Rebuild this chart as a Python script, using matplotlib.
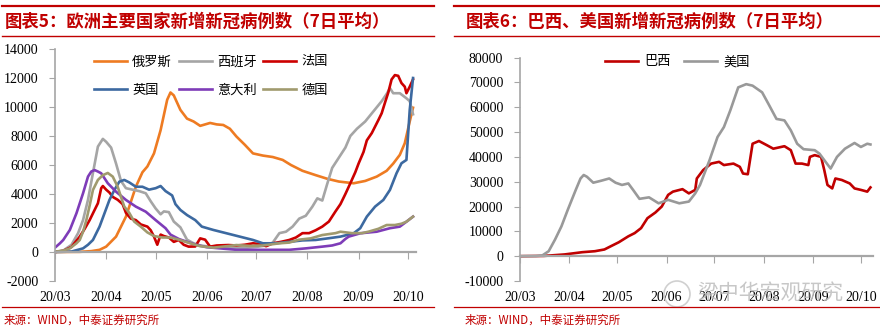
import matplotlib
matplotlib.use("Agg")
import matplotlib.pyplot as plt
import pandas as pd
from matplotlib.lines import Line2D
from matplotlib.patches import Ellipse

plt.rcParams["font.family"] = ["Noto Sans CJK SC", "DejaVu Sans"]

START = pd.Timestamp("2020-03-01")

# ---- Figure 5: Europe, 7-day average new cases (day offset from 2020-03-01) ----
rus_days = [0, 15, 22, 27, 31, 37, 43, 49, 53, 56, 60, 64, 68, 70, 72, 76, 80, 84, 88,
            94, 98, 102, 106, 110, 115, 120, 126, 132, 138, 143, 150, 158, 165, 172,
            181, 188, 195, 201, 205, 209, 212, 215, 217]
rus_vals = [0, 10, 60, 150, 370, 1060, 2440, 4500, 5500, 5900, 6800, 8400, 10500, 11000,
            10800, 9800, 9200, 9000, 8700, 8900, 8800, 8760, 8500, 7960, 7400, 6800, 6650,
            6550, 6350, 6000, 5600, 5300, 5050, 4860, 4740, 4900, 5200, 5600, 6100, 6700,
            7500, 9000, 9950]

esp_days = [0, 5, 10, 14, 17, 20, 23, 26, 29, 31, 34, 37, 40, 43, 47, 51, 55, 58, 61, 64,
            66, 69, 72, 76, 80, 84, 88, 95, 105, 115, 122, 128, 132, 136, 140, 144, 148,
            152, 156, 159, 162, 165, 168, 172, 176, 179, 183, 188, 193, 198, 201, 203, 205,
            209, 213, 215, 217]
esp_vals = [0, 100, 500, 1300, 2200, 3600, 5450, 7270, 7800, 7600, 7200, 6100, 4900, 4400,
            4300, 4200, 4050, 3500, 3000, 2600, 2800, 2750, 2100, 1700, 850, 600, 450, 350,
            300, 280, 350, 450, 650, 1300, 1400, 1750, 2300, 2500, 3130, 3700, 3550, 4700,
            5800, 6500, 7200, 8000, 8500, 9000, 9700, 10400, 10900, 11300, 10950, 10950,
            10600, 10400, 9500]

fra_days = [0, 5, 10, 15, 18, 21, 24, 26, 28, 29, 31, 33, 35, 38, 41, 43, 46, 49, 52, 56,
            58, 60, 62, 64, 66, 69, 72, 75, 78, 81, 85, 88, 91, 94, 98, 105, 110, 115, 120,
            124, 128, 132, 137, 142, 146, 150, 154, 158, 162, 166, 170, 173, 176, 179, 182,
            184, 187, 189, 192, 194, 196, 198, 200, 202, 204, 206, 208, 210, 212, 213, 215,
            217]
fra_vals = [0, 80, 350, 1060, 1600, 2200, 2900, 3360, 4400, 4550, 4300, 4100, 3800, 3600,
            3300, 2700, 2300, 2200, 1900, 1750, 1500, 1060, 500, 1200, 1100, 1000, 700, 830,
            500, 370, 380, 940, 850, 370, 450, 480, 450, 500, 600, 550, 400, 600, 700, 830,
            1000, 1300, 1300, 1500, 1750, 2100, 2800, 3300, 4000, 4740, 5500, 6100, 6900,
            7700, 8200, 8650, 9100, 9570, 10300, 11000, 11900, 12200, 12150, 11650, 11400,
            10950, 11400, 11900]

gbr_days = [0, 10, 17, 20, 23, 27, 30, 33, 36, 39, 42, 45, 49, 53, 57, 61, 64, 67, 71, 73,
            76, 80, 85, 89, 96, 104, 112, 120, 126, 134, 142, 150, 158, 166, 173, 181, 185,
            189, 194, 199, 203, 207, 210, 213, 215, 217]
gbr_vals = [0, 30, 250, 500, 830, 1750, 2670, 3590, 4280, 4850, 4970, 4800, 4500, 4500,
            4300, 4400, 4550, 4200, 3900, 3300, 2900, 2550, 2200, 1750, 1520, 1290, 1060,
            830, 600, 600, 700, 800, 830, 950, 1060, 1290, 1640, 2440, 3130, 3590, 4280,
            5430, 6120, 6350, 9800, 12000]

ita_days = [0, 3, 5, 9, 13, 17, 20, 22, 24, 26, 28, 32, 37, 43, 49, 55, 61, 67, 70, 75, 80,
            86, 92, 100, 110, 120, 130, 142, 152, 162, 168, 173, 176, 178, 185, 195, 203,
            209, 213, 217]
ita_vals = [300, 600, 830, 1520, 2670, 4050, 5200, 5550, 5650, 5550, 5430, 4740, 4160,
            3590, 3130, 2780, 2200, 1640, 1200, 900, 700, 480, 330, 250, 150, 150, 150, 150,
            250, 370, 450, 600, 900, 1060, 1290, 1400, 1640, 1750, 2090, 2440]

deu_days = [0, 5, 9, 13, 15, 17, 19, 21, 23, 26, 29, 32, 35, 38, 40, 42, 45, 48, 52, 56, 60,
            65, 70, 75, 82, 88, 96, 104, 110, 118, 126, 136, 142, 148, 155, 162, 170, 173,
            180, 186, 190, 196, 201, 206, 210, 213, 217]
deu_vals = [20, 100, 250, 600, 830, 1400, 2200, 3200, 4280, 4970, 5300, 5450, 5200, 4500,
            3800, 3130, 2700, 2100, 1750, 1350, 1100, 1000, 1000, 850, 600, 400, 300, 400,
            480, 420, 450, 600, 650, 850, 940, 1170, 1300, 1400, 1300, 1300, 1400, 1600,
            1860, 1860, 1950, 2090, 2440]

# ---- Figure 6: Brazil and US ----
bra_days = [0, 15, 28, 39, 47, 53, 57, 62, 68, 72, 76, 80, 85, 89, 93, 96, 102, 106, 110,
            111, 115, 120, 125, 128, 134, 138, 140, 143, 146, 150, 155, 159, 166, 170, 173,
            177, 181, 182, 185, 189, 191, 193, 196, 198, 202, 207, 210, 214, 218, 220]
bra_vals = [0, 100, 700, 1600, 2000, 2700, 4000, 5600, 8000, 9300, 11300, 15300, 17600,
            20000, 24700, 26000, 27000, 25300, 26700, 31300, 34700, 37300, 38000, 36700,
            37300, 36000, 33300, 33000, 45300, 46400, 44700, 43300, 44300, 42700, 37300,
            37300, 36700, 40000, 40700, 40000, 34700, 28700, 27300, 31300, 30700, 29300,
            27300, 26700, 26000, 27700]

usa_days = [0, 10, 14, 18, 22, 26, 30, 35, 38, 40, 42, 46, 51, 56, 60, 64, 68, 71, 75, 81,
            87, 93, 100, 106, 110, 113, 119, 124, 128, 132, 137, 142, 146, 152, 156, 161,
            166, 170, 174, 178, 185, 188, 191, 195, 199, 204, 210, 214, 218, 220]
usa_vals = [0, 50, 300, 2000, 6700, 12000, 18700, 26700, 31300, 32700, 32000, 29600, 30400,
            31300, 29600, 28700, 29300, 26700, 23100, 23700, 21300, 22700, 21300, 22000,
            25300, 28700, 38700, 48000, 52000, 58700, 68000, 69300, 68700, 66000, 61300,
            55300, 54700, 50700, 45300, 43100, 42700, 41300, 38700, 35300, 40000, 43300,
            45600, 44000, 45300, 45000]

left_series = [
    ("俄罗斯", rus_days, rus_vals, "#EE7B22"),
    ("西班牙", esp_days, esp_vals, "#A5A5A5"),
    ("法国", fra_days, fra_vals, "#CC0000"),
    ("英国", gbr_days, gbr_vals, "#3C69A0"),
    ("意大利", ita_days, ita_vals, "#7E3CB8"),
    ("德国", deu_days, deu_vals, "#A09A6E"),
]
right_series = [
    ("巴西", bra_days, bra_vals, "#C00000"),
    ("美国", usa_days, usa_vals, "#999999"),
]

month_ticks = pd.date_range("2020-03-01", "2020-10-01", freq="MS")
RED = "#C00000"
AXIS_GRAY = "#A6A6A6"
SERIF = ["Liberation Serif", "DejaVu Serif"]
W, H = 880, 333


def to_dates(days):
    return START + pd.to_timedelta(days, unit="D")


def style_axes(ax, ylim, step, x_end_days):
    ax.set_xlim(START, START + pd.Timedelta(days=x_end_days))
    ax.set_ylim(*ylim)
    ax.set_yticks(range(ylim[0], ylim[1] + 1, step))
    ax.set_yticklabels([str(v) for v in range(ylim[0], ylim[1] + 1, step)],
                       fontfamily=SERIF, fontsize=10)
    for s in ("top", "right"):
        ax.spines[s].set_visible(False)
    ax.spines["left"].set_color(AXIS_GRAY)
    ax.spines["left"].set_linewidth(1.2)
    ax.spines["bottom"].set_position(("data", 0))
    ax.spines["bottom"].set_color(AXIS_GRAY)
    ax.spines["bottom"].set_linewidth(1.6)
    ax.tick_params(axis="y", direction="out", length=4, color=AXIS_GRAY, pad=8)
    ax.tick_params(axis="x", direction="out", length=5, color=AXIS_GRAY,
                   labelbottom=False)
    ax.set_xticks(month_ticks)
    for t in month_ticks:
        ax.text(t, -0.072, t.strftime("%y/%m"), transform=ax.get_xaxis_transform(),
                ha="center", va="center", fontsize=10, fontfamily=SERIF)
    ax.patch.set_alpha(0)


fig = plt.figure(figsize=(W / 100, H / 100), dpi=100)

# left panel
axl = fig.add_axes([55 / W, 1 - 281 / H, (416 - 55) / W, (281 - 49) / H])
lines = {}
for name, d, v, c in left_series:
    lines[name] = axl.plot(to_dates(d), v, color=c, lw=1.9, label=name)[0]
style_axes(axl, (-2000, 14000), 2000, 218.8)
# legend fills column by column; order so rows read 俄罗斯/西班牙/法国, 英国/意大利/德国
order = ["俄罗斯", "英国", "西班牙", "意大利", "法国", "德国"]
axl.legend([lines[n] for n in order], order, loc="upper left",
           bbox_to_anchor=(0.108, 0.972), ncol=3, frameon=False,
           fontsize=9.5, handlelength=2.5, handletextpad=0.4, columnspacing=0.5,
           labelspacing=1.15, borderpad=0, borderaxespad=0)

# right panel
axr = fig.add_axes([520 / W, 1 - 281 / H, (873 - 520) / W, (281 - 57.6) / H])
for name, d, v, c in right_series:
    axr.plot(to_dates(d), v, color=c, lw=1.9, label=name)
style_axes(axr, (-10000, 80000), 10000, 221.6)
axr.legend(loc="upper left", bbox_to_anchor=(0.24, 1.01), ncol=2, frameon=False,
           fontsize=9.5, handlelength=2.5, handletextpad=0.5, columnspacing=1.0,
           borderpad=0, borderaxespad=0)


def hline(x0, x1, y, lw):
    fig.add_artist(Line2D([x0 / W, x1 / W], [1 - y / H, 1 - y / H],
                          transform=fig.transFigure, color=RED, lw=lw))


# title bars, titles and sources
for x0, x1, tx, title in [
    (2, 434, 5, "图表5：欧洲主要国家新增新冠病例数（7日平均）"),
    (454, 880, 466, "图表6：巴西、美国新增新冠病例数（7日平均）"),
]:
    hline(x0, x1, 6, 1.6)
    hline(x0, x1, 36, 1.0)
    hline(x0, x1, 307, 0.9)
    fig.text(tx / W, 1 - 22 / H, title, color=RED, fontsize=12.5, fontweight="bold",
             ha="left", va="center")
    fig.text((tx - 1) / W, 1 - 320 / H, "来源：WIND，中泰证券研究所", color=RED,
             fontsize=8.3, ha="left", va="center")

# watermark (sits over the month labels, as in the source image)
fig.text(770 / W, 1 - 294 / H, "梁中华宏观研究", color="#BDBDBD", alpha=0.85,
         fontsize=15, ha="center", va="center")
fig.add_artist(Ellipse((677 / W, 1 - 294 / H), 26 / W, 26 / H, transform=fig.transFigure,
                       fill=False, edgecolor="#C8C8C8", lw=1.2, alpha=0.85))

fig.savefig("out.png", dpi=100)
